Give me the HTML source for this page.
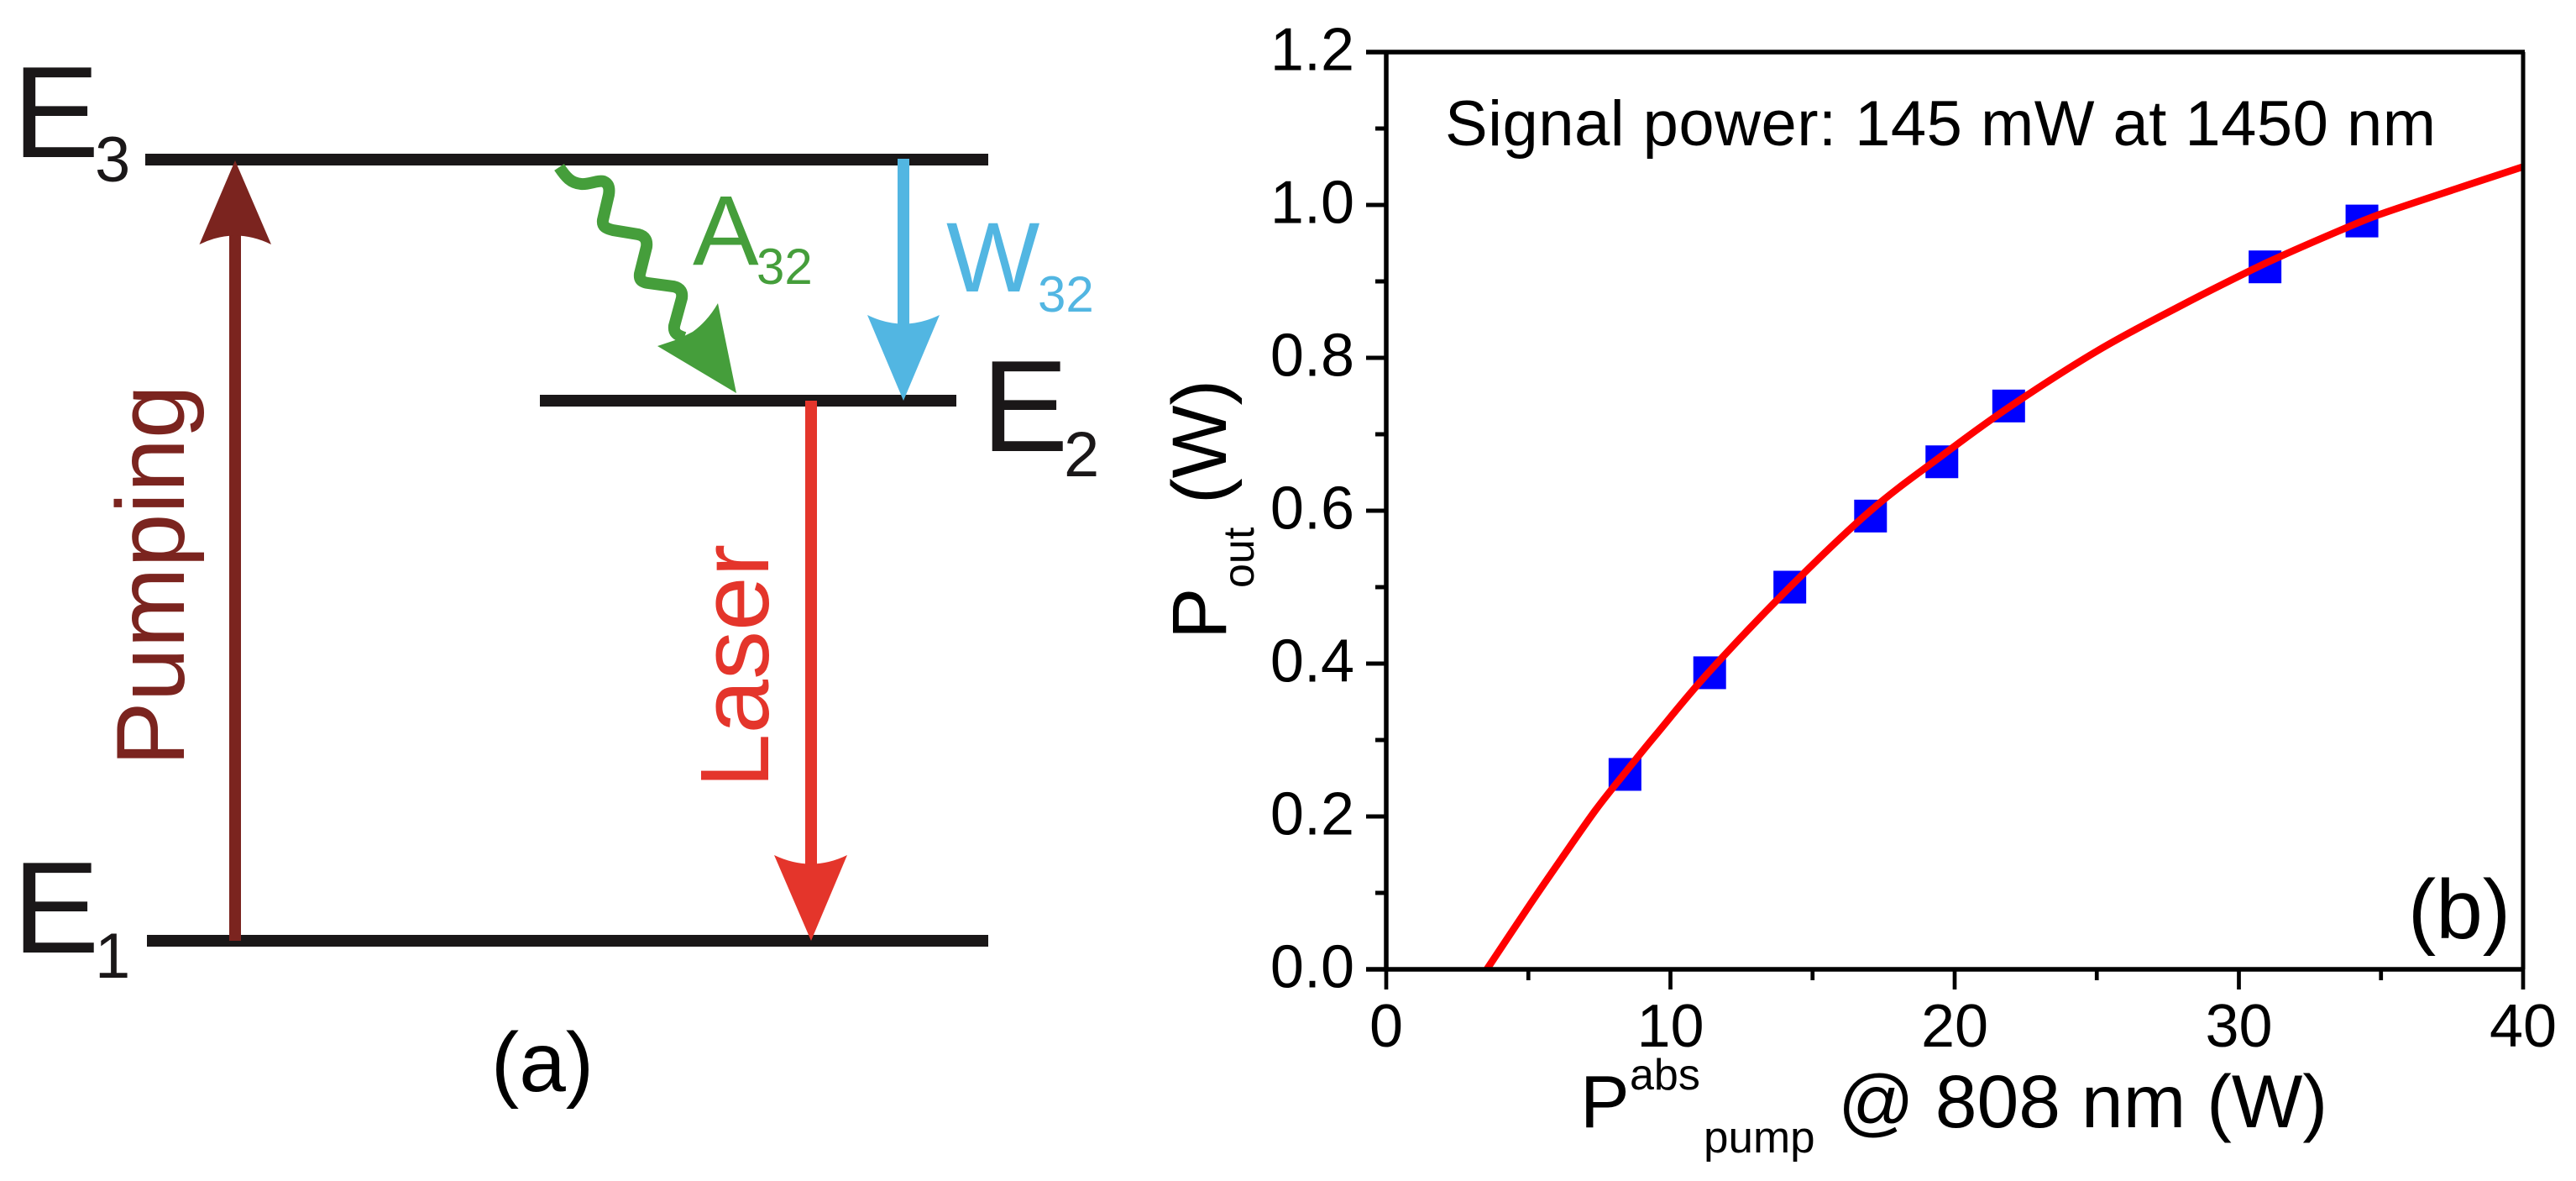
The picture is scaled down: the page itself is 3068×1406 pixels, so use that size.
<!DOCTYPE html>
<html lang="en">
<head>
<meta charset="utf-8">
<title>Energy levels and laser output power</title>
<style>
html,body{margin:0;padding:0;background:#fff;width:3068px;height:1406px;overflow:hidden}
svg{display:block}
text{font-family:"Liberation Sans",Arial,sans-serif}
</style>
</head>
<body>
<svg id="figure" xmlns="http://www.w3.org/2000/svg" width="3068" height="1406" viewBox="0 0 3068 1406">
  <g id="panel-a">
    <rect x="173" y="183" width="1004" height="14" fill="#1a1718"/>
    <rect x="643" y="470" width="496" height="14" fill="#1a1718"/>
    <rect x="175" y="1113" width="1002" height="14" fill="#1a1718"/>

    <text x="15" y="187" font-size="155" fill="#1a1718">E</text>
    <text x="113" y="216" font-size="76" fill="#1a1718">3</text>
    <text x="1169" y="537" font-size="155" fill="#1a1718">E</text>
    <text x="1267" y="567" font-size="76" fill="#1a1718">2</text>
    <text x="15" y="1134" font-size="155" fill="#1a1718">E</text>
    <text x="113" y="1164" font-size="76" fill="#1a1718">1</text>

    <g fill="#7b241f">
      <rect x="273" y="270" width="14" height="850"/>
      <path d="M280 191 L323 291 Q280 270 237.5 291 Z"/>
    </g>
    <text transform="translate(219 912) rotate(-90)" font-size="115" fill="#7b241f">Pumping</text>

    <g fill="#52b6e2">
      <rect x="1069" y="189" width="14" height="200"/>
      <path d="M1076 477 L1119 375 Q1076 396 1033 375 Z"/>
    </g>
    <text x="1127" y="347" font-size="118" fill="#52b6e2">W</text>
    <text x="1236" y="371" font-size="60" fill="#52b6e2">32</text>

    <g fill="#459e3b">
      <path fill="none" stroke="#459e3b" stroke-width="14" d="M666 199 C674 211 680 218 692 219 C702 220 712 214 719 216 C726 219 726 226 725 232 L718 262 C717 270 722 272 730 274 L760 279 C769 281 771 287 770 294 L762 326 C761 334 765 336 772 337 L802 341 C811 343 813 348 812 355 L803 388 C802 396 806 399 815 402"/>
      <path d="M855 361 L877 468 L783 412 L807 404 L825 395 Q843 382 855 361 Z"/>
    </g>
    <text x="825" y="315" font-size="118" fill="#459e3b">A</text>
    <text x="901" y="338" font-size="60" fill="#459e3b">32</text>

    <g fill="#e4352b">
      <rect x="959" y="477" width="14" height="555"/>
      <path d="M966 1120 L1009 1018 Q966 1039 922 1018 Z"/>
    </g>
    <text transform="translate(915 938) rotate(-90)" font-size="116" fill="#e4352b">Laser</text>

    <text x="646" y="1299" font-size="100" text-anchor="middle" fill="#000">(a)</text>
  </g>

  <g id="panel-b">
    <g id="series"></g>
    <g id="frame"></g>
    <g id="ticks"></g>
    <text x="1721" y="173" font-size="76" textLength="1180" lengthAdjust="spacing" fill="#000">Signal power: 145 mW at 1450 nm</text>
    <text x="2929" y="1117" font-size="100" text-anchor="middle" fill="#000">(b)</text>

    <g fill="#000">
      <text x="1882" y="1342" font-size="88">P</text>
      <text x="1941" y="1297" font-size="52">abs</text>
      <text x="2029" y="1372" font-size="53">pump</text>
      <text x="2189" y="1342" font-size="89.5">@ 808 nm (W)</text>
    </g>
    <g fill="#000">
      <text transform="translate(1460 761) rotate(-90)" font-size="92">P</text>
      <text transform="translate(1493 700) rotate(-90)" font-size="52">out</text>
      <text transform="translate(1460 600) rotate(-90)" font-size="92">(W)</text>
    </g>
  </g>
</svg>
<script>
const xTickValues = [0, 10, 20, 30, 40];
const xTickLabels = ["0", "10", "20", "30", "40"];
const xMinorValues = [5, 15, 25, 35];
const yTickValues = [0, 0.2, 0.4, 0.6, 0.8, 1.0, 1.2];
const yTickLabels = ["0.0", "0.2", "0.4", "0.6", "0.8", "1.0", "1.2"];
const yMinorValues = [0.1, 0.3, 0.5, 0.7, 0.9, 1.1];
const pumpPower = [8.4, 11.38, 14.2, 17.04, 19.55, 21.9, 30.92, 34.33];
const outputPower = [0.255, 0.388, 0.5, 0.593, 0.664, 0.737, 0.919, 0.979];
const fitPump = [3.54, 4.99, 6.17, 7.36, 8.4, 9.47, 11.38, 14.2, 17.04, 19.55, 21.9, 25.06, 28.05, 30.34, 31.48, 33.77, 34.91, 36.9, 40];
const fitOutput = [0, 0.081, 0.145, 0.208, 0.257, 0.306, 0.39, 0.5, 0.6, 0.672, 0.735, 0.81, 0.87, 0.913, 0.933, 0.97, 0.987, 1.012, 1.05];

const NS = "http://www.w3.org/2000/svg";
const plot = { left: 1651, right: 3005, top: 62, bottom: 1154, xMin: 0, xMax: 40, yMin: 0, yMax: 1.2 };
function xScale(v) { return plot.left + (v - plot.xMin) / (plot.xMax - plot.xMin) * (plot.right - plot.left); }
function yScale(v) { return plot.bottom - (v - plot.yMin) / (plot.yMax - plot.yMin) * (plot.bottom - plot.top); }
function svgEl(tag, attrs, parent) {
  const el = document.createElementNS(NS, tag);
  for (const k in attrs) el.setAttribute(k, attrs[k]);
  parent.appendChild(el);
  return el;
}
function smoothPath(xs, ys) {
  const p = xs.map((x, i) => [xScale(x), yScale(ys[i])]);
  let d = "M" + p[0][0].toFixed(1) + " " + p[0][1].toFixed(1);
  for (let i = 0; i < p.length - 1; i++) {
    const a = p[Math.max(i - 1, 0)], b = p[i], c = p[i + 1], e = p[Math.min(i + 2, p.length - 1)];
    const c1x = b[0] + (c[0] - a[0]) / 6, c1y = b[1] + (c[1] - a[1]) / 6;
    const c2x = c[0] - (e[0] - b[0]) / 6, c2y = c[1] - (e[1] - b[1]) / 6;
    d += " C" + c1x.toFixed(1) + " " + c1y.toFixed(1) + " " + c2x.toFixed(1) + " " + c2y.toFixed(1) + " " + c[0].toFixed(1) + " " + c[1].toFixed(1);
  }
  return d;
}

const seriesGroup = document.getElementById("series");
const frameGroup = document.getElementById("frame");
const ticksGroup = document.getElementById("ticks");

pumpPower.forEach(function (xv, i) {
  const square = svgEl("rect", { x: xScale(xv) - 19.5, y: yScale(outputPower[i]) - 19.5, width: 39, height: 39, fill: "#0000ff" }, seriesGroup);
  
  
});

const fitLine = svgEl("path", { d: smoothPath(fitPump, fitOutput), fill: "none", stroke: "#ff0000", "stroke-width": 8.5 }, seriesGroup);



const axisLeft = svgEl("line", { x1: plot.left, x2: plot.left, y1: plot.top, y2: plot.bottom, stroke: "#000", "stroke-width": 5.5 }, frameGroup);


const axisRight = svgEl("line", { x1: plot.right, x2: plot.right, y1: plot.top, y2: plot.bottom, stroke: "#000", "stroke-width": 5 }, frameGroup);


const axisTop = svgEl("line", { x1: plot.left - 24, x2: plot.right + 2, y1: plot.top, y2: plot.top, stroke: "#000", "stroke-width": 5.5 }, frameGroup);


const axisBottom = svgEl("line", { x1: plot.left - 24, x2: plot.right + 2, y1: plot.bottom, y2: plot.bottom, stroke: "#000", "stroke-width": 5.5 }, frameGroup);



xTickValues.forEach(function (v, i) {
  const t = svgEl("line", { x1: xScale(v), x2: xScale(v), y1: plot.bottom, y2: plot.bottom + 24, stroke: "#000", "stroke-width": 4.7 }, ticksGroup);
  
  
  const l = svgEl("text", { x: xScale(v), y: 1246, "font-size": 72, "text-anchor": "middle", fill: "#000" }, ticksGroup);
  
  
  l.textContent = xTickLabels[i];
});
xMinorValues.forEach(function (v) {
  const t = svgEl("line", { x1: xScale(v), x2: xScale(v), y1: plot.bottom, y2: plot.bottom + 13, stroke: "#000", "stroke-width": 4.7 }, ticksGroup);
  
  
});
yTickValues.forEach(function (v, i) {
  const t = svgEl("line", { x1: plot.left - 24, x2: plot.left, y1: yScale(v), y2: yScale(v), stroke: "#000", "stroke-width": 5 }, ticksGroup);
  
  
  const l = svgEl("text", { x: 1613, y: yScale(v) + 21.5, "font-size": 72, "text-anchor": "end", fill: "#000" }, ticksGroup);
  
  
  l.textContent = yTickLabels[i];
});
yMinorValues.forEach(function (v) {
  const t = svgEl("line", { x1: plot.left - 13, x2: plot.left, y1: yScale(v), y2: yScale(v), stroke: "#000", "stroke-width": 5 }, ticksGroup);
  
  
});
</script>
</body>
</html>
